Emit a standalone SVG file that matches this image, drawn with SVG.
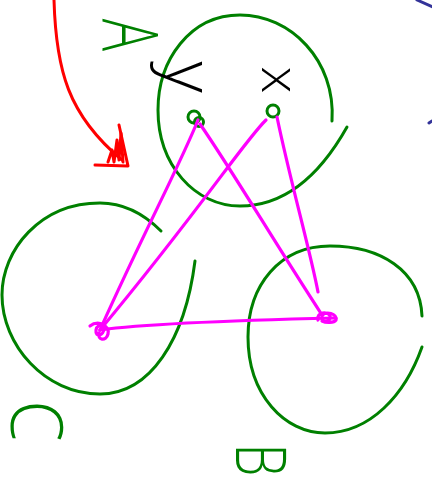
<svg xmlns="http://www.w3.org/2000/svg" width="432" height="484" viewBox="0 0 432 484">
<style>
.g{fill:none;stroke:#008000;stroke-width:3;stroke-linecap:round;stroke-linejoin:round}
.m{fill:none;stroke:#ff00ff;stroke-width:3.2;stroke-linecap:round;stroke-linejoin:round}
.r{fill:none;stroke:#ff0000;stroke-width:3;stroke-linecap:round;stroke-linejoin:round}
.b{fill:none;stroke:#333399;stroke-width:3;stroke-linecap:round}
.lg{font-family:"Open Sans","Liberation Sans",sans-serif;font-weight:300;fill:#008000}
.lk{font-family:"Open Sans","Liberation Sans",sans-serif;font-weight:300;fill:#000000}
</style>
<rect width="432" height="484" fill="#ffffff"/>
<g id="setA">
<path class="g" d="M332,121 C336,60 290,15 240,15 C190,15 158,60 158,110 C158,165 195,206 240,206 C285,206 320,175 347,127"/>
<text class="lg" transform="translate(102,35) rotate(90) scale(0.7,1)" font-size="77" font-weight="400" text-anchor="middle">A</text>
</g>
<g id="setC">
<path class="g" d="M161,231 C140,210 120,203 100,203 C40,203 2,250 2,295 C2,345 45,394 100,394 C150,394 185,340 195,261"/>
<text class="lg" transform="translate(11,421) rotate(90) scale(0.92,1)" font-size="72" text-anchor="middle">C</text>
</g>
<g id="setB">
<path class="g" d="M422,316 C420,270 380,246 330,246 C280,246 248,285 248,337 C248,395 285,433 325,433 C370,433 405,395 422,347"/>
<text class="lg" transform="translate(236,460) rotate(90) scale(0.75,1)" font-size="70" text-anchor="middle">B</text>
</g>
<g id="elem-y">
<text class="lk" transform="translate(166,77) rotate(90)" font-size="68" text-anchor="middle">y</text>
<circle class="g" cx="194" cy="117" r="6"/>
<circle class="g" cx="199" cy="122" r="4.5"/>
</g>
<g id="elem-x">
<text class="lk" transform="translate(262,80) rotate(90)" font-size="54" text-anchor="middle">x</text>
<circle class="g" cx="273" cy="111" r="6"/>
</g>
<g id="pointC">
<path class="m" d="M90,326 C95,322 104,322 104,328 C104,336 95,338 96,330 C97,322 110,324 108,334 C106,342 97,340 99,333"/>
</g>
<g id="pointB">
<path class="m" d="M318,320 C316,312 328,311 330,316 C332,322 320,324 322,316 C325,310 338,314 336,320 C334,323 326,323 322,321"/>
</g>
<g id="arrow">
<path class="r" d="M54,0 C56,70 68,115 122,160"/>
<path class="r" d="M95,165 L128,166 L119,125"/>
<path class="r" d="M108,162 L112,150 L114,162 L117,140 L119,160 L121,133 L123,162"/>
</g>
<g id="marks">
<path class="b" d="M417,0 L433,7"/>
<path class="b" d="M429,123 L432,121"/>
</g>
<g id="connectors">
<path class="m" d="M198,120 C180,165 140,240 100,330"/>
<path class="m" d="M200,124 C235,175 270,235 322,315"/>
<path class="m" d="M266,120 C245,140 200,210 100,330"/>
<path class="m" d="M277,117 C290,180 310,250 318,292"/>
<path class="m" d="M100,330 C150,323 250,320 335,318"/>
</g>
</svg>
